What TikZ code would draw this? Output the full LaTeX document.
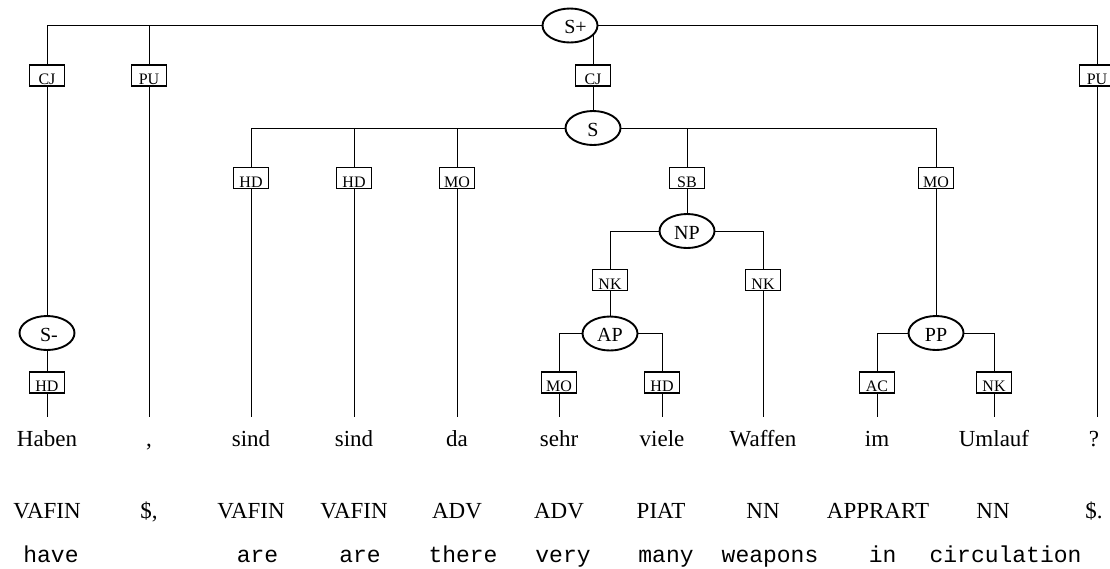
\documentclass[tikz,border=0pt]{standalone}
\usepackage{fontspec}
\setmainfont{Liberation Serif}
\setmonofont{Liberation Mono}
\usetikzlibrary{shapes.geometric,backgrounds}
\begin{document}
\begin{tikzpicture}[x=1pt,y=-1pt,line width=1.9pt,
  catnode/.style={ellipse, draw, fill=white, minimum width=55pt, minimum height=34pt, inner sep=0pt,
    font=\fontsize{20}{20}\selectfont, text height=16pt, text depth=0pt},
  edgelab/.style={rectangle, draw, fill=white, minimum width=35pt, minimum height=21pt, inner sep=0pt,
    font=\fontsize{16}{16}\selectfont, text height=18pt, text depth=0pt},
  wordnode/.style={anchor=base, font=\fontsize{23}{23}\selectfont, text height=16pt, text depth=5pt,
    inner xsep=2pt, inner ysep=12pt},
  postag/.style={anchor=base, font=\fontsize{23}{23}\selectfont, inner sep=0pt},
  glossnode/.style={anchor=base, font=\fontsize{23}{23}\selectfont\ttfamily, inner sep=0pt}]
\useasboundingbox (0,0) rectangle (1110,568);

% categories
\node[catnode] (splus) at (570,25.5) {\hspace*{11pt}S+};
\node[catnode] (s) at (593,128) {S};
\node[catnode] (sminus) at (47,333) {\hspace*{4pt}S-};
\node[catnode] (np) at (687,231) {NP};
\node[catnode] (ap) at (610,333.5) {AP};
\node[catnode] (pp) at (936,333) {PP};

% edge labels
\node[edgelab] (cj1) at (47,75.5) {CJ};
\node[edgelab] (pu1) at (149,75.5) {PU};
\node[edgelab] (cj2) at (593,75.5) {CJ};
\node[edgelab] (pu2) at (1097,75.5) {PU};
\node[edgelab] (hd1) at (47,382.5) {HD};
\node[edgelab] (hd2) at (251,178) {HD};
\node[edgelab] (hd3) at (354,178) {HD};
\node[edgelab] (mo1) at (457,178) {MO};
\node[edgelab] (sb) at (687,178) {SB};
\node[edgelab] (mo2) at (936,178) {MO};
\node[edgelab] (nk1) at (610,280) {NK};
\node[edgelab] (nk2) at (763,280) {NK};
\node[edgelab] (mo3) at (559,382.5) {MO};
\node[edgelab] (hd4) at (662,382.5) {HD};
\node[edgelab] (ac) at (877,382.5) {AC};
\node[edgelab] (nk3) at (994,382.5) {NK};

% words
\node[wordnode] (w1) at (47,446) {Haben};
\node[wordnode] (w2) at (149,446) {,};
\node[wordnode] (w3) at (251,446) {sind};
\node[wordnode] (w4) at (354,446) {sind};
\node[wordnode] (w5) at (457,446) {da};
\node[wordnode] (w6) at (559,446) {sehr};
\node[wordnode] (w7) at (662,446) {viele};
\node[wordnode] (w8) at (763,446) {Waffen};
\node[wordnode] (w9) at (877,446) {im};
\node[wordnode] (w10) at (994,446) {Umlauf};
\node[wordnode] (w11) at (1094,446) {?};

% POS tags
\node[postag] (p1) at (47,518) {VAFIN};
\node[postag] (p2) at (149,518) {\$,};
\node[postag] (p3) at (251,518) {VAFIN};
\node[postag] (p4) at (354,518) {VAFIN};
\node[postag] (p5) at (457,518) {ADV};
\node[postag] (p6) at (559,518) {ADV};
\node[postag] (p7) at (661,518) {PIAT};
\node[postag] (p8) at (763,518) {NN};
\node[postag] (p9) at (878,518) {APPRART};
\node[postag] (p10) at (993,518) {NN};
\node[postag] (p11) at (1094,518) {\$.};

% glosses
\node[glossnode] (g1) at (51,562) {have};
\node[glossnode] (g3) at (257.5,562) {are};
\node[glossnode] (g4) at (360,562) {are};
\node[glossnode] (g5) at (463,562) {there};
\node[glossnode] (g6) at (563,562) {very};
\node[glossnode] (g7) at (666,562) {many};
\node[glossnode] (g8) at (770,562) {weapons};
\node[glossnode] (g9) at (882.6,562) {in};
\node[glossnode] (g10) at (1005.5,562) {circulation};

\begin{scope}[on background layer]
  % S+
  \draw (cj1.north) |- (splus.west);
  \draw (splus.east) -| (pu2.north);
  \draw (pu1.north) -- (pu1.north |- splus.center);
  \draw (cj2.north) -- (cj2.north |- splus.center);
  \draw (cj1) -- (sminus);
  \draw (sminus) -- (hd1);
  \draw (hd1.south) -- (w1.north);
  \draw (pu1.south) -- (w2.north);
  \draw (cj2) -- (s);
  \draw (pu2.south) -- (pu2.south |- w11.north);
  % S
  \draw (hd2.north) |- (s.west);
  \draw (s.east) -| (mo2.north);
  \draw (hd3.north) -- (hd3.north |- s.center);
  \draw (mo1.north) -- (mo1.north |- s.center);
  \draw (sb.north) -- (sb.north |- s.center);
  \draw (hd2.south) -- (w3.north);
  \draw (hd3.south) -- (w4.north);
  \draw (mo1.south) -- (w5.north);
  \draw (sb) -- (np);
  \draw (mo2) -- (pp);
  % NP
  \draw (nk1.north) |- (np.west);
  \draw (np.east) -| (nk2.north);
  \draw (nk1) -- (ap);
  \draw (nk2.south) -- (w8.north);
  % AP
  \draw (mo3.north) |- (ap.west);
  \draw (ap.east) -| (hd4.north);
  \draw (mo3.south) -- (w6.north);
  \draw (hd4.south) -- (w7.north);
  % PP
  \draw (ac.north) |- (pp.west);
  \draw (pp.east) -| (nk3.north);
  \draw (ac.south) -- (w9.north);
  \draw (nk3.south) -- (w10.north);
\end{scope}
\end{tikzpicture}
\end{document}
